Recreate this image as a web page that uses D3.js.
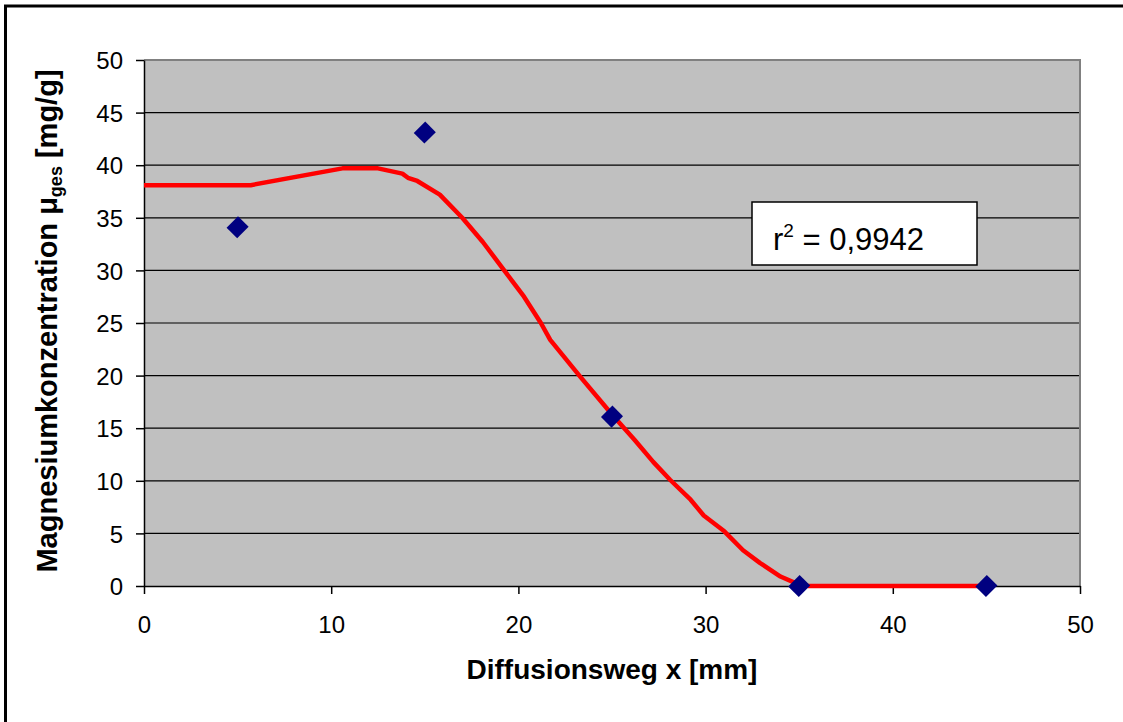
<!DOCTYPE html>
<html>
<head>
<meta charset="utf-8">
<script src="https://cdn.jsdelivr.net/npm/d3@7"></script>
<style>
  html, body { margin: 0; padding: 0; background: #fff; }
  svg { display: block; }
  text { font-family: "Liberation Sans", Arial, sans-serif; fill: #000; }
</style>
</head>
<body>
<svg id="chart" width="1123" height="722"></svg>
<script>
// ---- data ----
const xTicks = [0, 10, 20, 30, 40, 50];
const yTicks = [0, 5, 10, 15, 20, 25, 30, 35, 40, 45, 50];
const measuredX = [5, 15, 25, 35, 45];
const measuredY = [34.1, 43.1, 16.1, 0, 0];
const fitX = [0, 5, 5.7, 10.6, 12.5, 13.8, 14.1, 14.6, 15.8, 17.0, 18.1, 19.2, 20.3, 21.2, 21.7, 23.3, 25.0, 26.2, 27.2, 28.1, 29.2, 29.9, 31.0, 32.0, 32.9, 34.0, 34.9, 35.5, 45];
const fitY = [38.1, 38.1, 38.1, 39.7, 39.7, 39.2, 38.8, 38.5, 37.2, 35.0, 32.7, 30.1, 27.5, 25.0, 23.4, 19.9, 16.3, 13.9, 11.8, 10.1, 8.2, 6.7, 5.2, 3.4, 2.2, 0.9, 0.2, 0, 0];
const xTitle = "Diffusionsweg x [mm]";
const yTitleMain = "Magnesiumkonzentration μ";
const yTitleSub = "ges";
const yTitleEnd = " [mg/g]";
const r2Label = "r";
const r2Sup = "2";
const r2Value = " = 0,9942";

// ---- layout ----
const svg = d3.select("#chart");
const pLeft = 144, pRight = 1080, pTop = 60, pBottom = 586;

const x = d3.scaleLinear().domain([0, 50]).range([pLeft, pRight]);
const y = d3.scaleLinear().domain([0, 50]).range([pBottom, pTop]);

// outer frame (right/bottom edges fall outside the picture)
svg.append("rect")
  .attr("x", 5.5).attr("y", 6)
  .attr("width", 1200).attr("height", 800)
  .attr("fill", "none").attr("stroke", "#000").attr("stroke-width", 3);

// plot area
svg.append("rect")
  .attr("x", pLeft).attr("y", pTop)
  .attr("width", pRight - pLeft).attr("height", pBottom - pTop)
  .attr("fill", "#c0c0c0");

// gridlines
svg.append("g").selectAll("line")
  .data(yTicks.filter(d => d > 0 && d < 50))
  .join("line")
  .attr("x1", pLeft).attr("x2", pRight)
  .attr("y1", d => y(d)).attr("y2", d => y(d))
  .attr("stroke", "#000").attr("stroke-width", 1.2);

// top & right plot border (gray)
svg.append("path")
  .attr("d", `M${pLeft},${pTop}H${pRight}V${pBottom}`)
  .attr("fill", "none").attr("stroke", "#808080").attr("stroke-width", 2);

// axes
const yAxis = d3.axisLeft(y).tickValues(yTicks).tickSize(8).tickSizeOuter(0).tickPadding(13);
const xAxis = d3.axisBottom(x).tickValues(xTicks).tickSize(8).tickSizeOuter(0).tickPadding(22);

const gy = svg.append("g").attr("transform", `translate(${pLeft},0)`).call(yAxis);
const gx = svg.append("g").attr("transform", `translate(0,${pBottom})`).call(xAxis);

[gx, gy].forEach(g => {
  g.select(".domain").attr("stroke", "#000").attr("stroke-width", 1.5);
  g.selectAll(".tick line").attr("stroke", "#000").attr("stroke-width", 1.5);
  g.selectAll(".tick text")
    .style("font-family", '"Liberation Sans", Arial, sans-serif')
    .style("font-size", "24px").attr("fill", "#000");
});
gy.selectAll(".tick text").attr("dy", "0.36em");

// fitted curve
const line = d3.line().x((d, i) => x(fitX[i])).y((d, i) => y(fitY[i]));
svg.append("path")
  .datum(fitX)
  .attr("d", line)
  .attr("fill", "none")
  .attr("stroke", "#ff0000")
  .attr("stroke-width", 4.5)
  .attr("stroke-linejoin", "round");

// measured points
const diamond = d3.symbol().type(d3.symbolSquare).size(225);
svg.append("g").selectAll("path")
  .data(measuredX)
  .join("path")
  .attr("d", diamond)
  .attr("transform", (d, i) => `translate(${x(d)},${y(measuredY[i])}) rotate(45) scale(1,1.08)`)
  .attr("fill", "#000080");

// r² box
svg.append("rect")
  .attr("x", 752).attr("y", 202)
  .attr("width", 225).attr("height", 63)
  .attr("fill", "#fff").attr("stroke", "#000").attr("stroke-width", 1.5);
const r2 = svg.append("text")
  .attr("x", 773).attr("y", 250)
  .style("font-size", "31px");
r2.append("tspan").text(r2Label);
r2.append("tspan").attr("dy", -13).style("font-size", "19px").text(r2Sup);
r2.append("tspan").attr("dy", 13).text(r2Value);

// axis titles
svg.append("text")
  .attr("x", (pLeft + pRight) / 2).attr("y", 679)
  .attr("text-anchor", "middle")
  .style("font-size", "28px").style("font-weight", "bold")
  .text(xTitle);

const yt = svg.append("text")
  .attr("transform", `translate(57,321) rotate(-90)`)
  .attr("text-anchor", "middle")
  .style("font-size", "29px").style("font-weight", "bold");
yt.append("tspan").text(yTitleMain);
yt.append("tspan").attr("dy", 5).style("font-size", "18px").text(yTitleSub);
yt.append("tspan").attr("dy", -5).text(yTitleEnd);
</script>
</body>
</html>
